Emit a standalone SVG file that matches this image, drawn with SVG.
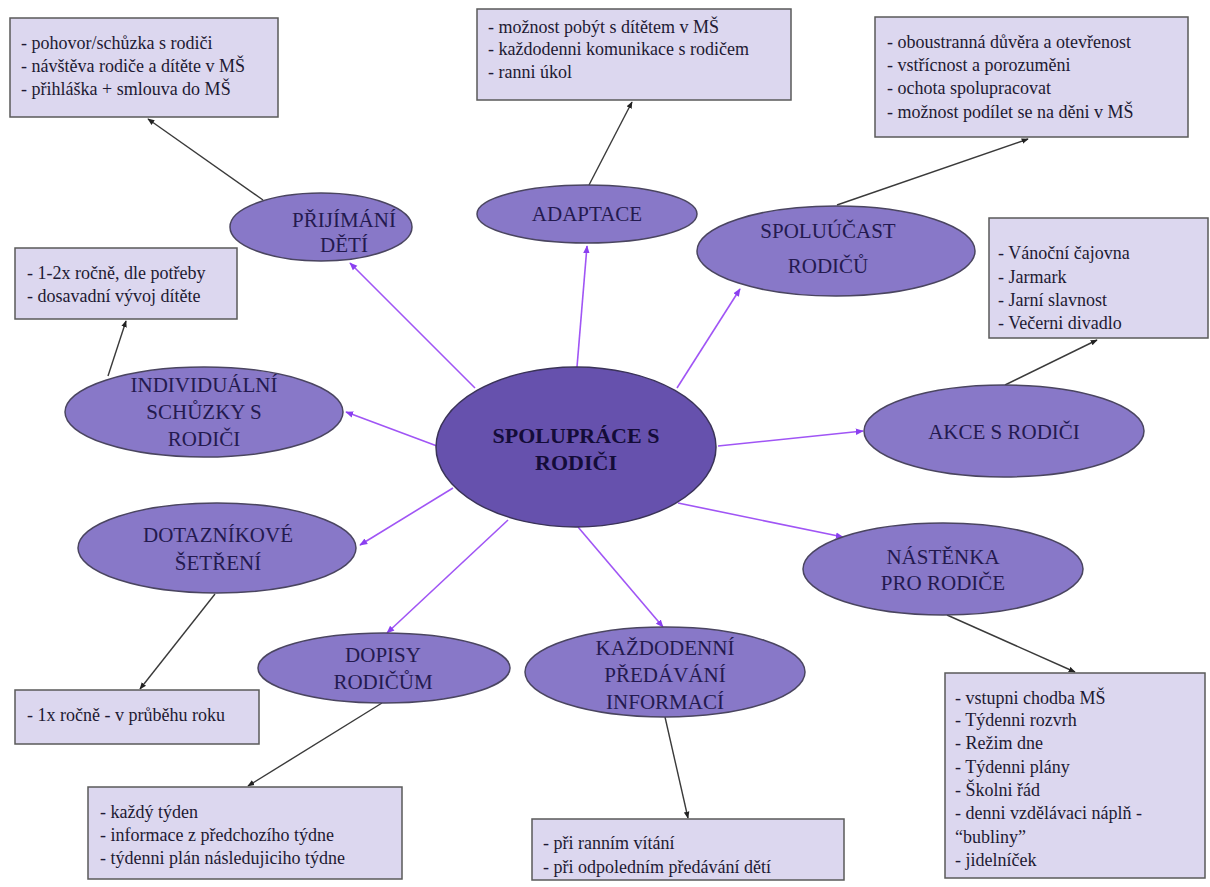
<svg xmlns="http://www.w3.org/2000/svg" width="1210" height="887" viewBox="0 0 1210 887">
<defs>
<style>
.box{fill:#dcd7ef;stroke:#5a5a5a;stroke-width:1.5}
.bt{font-family:"Liberation Serif","DejaVu Serif","Times New Roman",serif;font-size:18px;fill:#1e1a33}
.el{fill:#8878c8;stroke:#4a4560;stroke-width:1.5}
.ctr{fill:#6651ad;stroke:#3a3358;stroke-width:1.5}
.et{font-family:"Liberation Serif","DejaVu Serif","Times New Roman",serif;font-size:21px;fill:#241a4f;text-anchor:middle}
.ct{font-family:"Liberation Serif","DejaVu Serif","Times New Roman",serif;font-size:22px;font-weight:bold;fill:#140c38;text-anchor:middle}
.pl{stroke:#a055f5;stroke-width:1.6;fill:none;marker-end:url(#ap)}
.bl{stroke:#3a3a3a;stroke-width:1.4;fill:none;marker-end:url(#ab)}
</style>
<marker id="ap" viewBox="0 0 10 10" refX="9" refY="5" markerWidth="5" markerHeight="5" orient="auto" markerUnits="strokeWidth">
<path d="M0,1 L10,5 L0,9 z" fill="#8a3ff0"/>
</marker>
<marker id="ab" viewBox="0 0 10 10" refX="9" refY="5" markerWidth="5" markerHeight="5" orient="auto" markerUnits="strokeWidth">
<path d="M0,1 L10,5 L0,9 z" fill="#222"/>
</marker>
</defs>
<rect width="1210" height="887" fill="#ffffff"/>

<g id="connectors">
<line class="pl" x1="475" y1="388" x2="350" y2="263"/>
<line class="pl" x1="577" y1="367" x2="587" y2="246"/>
<line class="pl" x1="677" y1="388" x2="740" y2="289"/>
<line class="pl" x1="437" y1="446" x2="346" y2="412"/>
<line class="pl" x1="453" y1="488" x2="360" y2="545"/>
<line class="pl" x1="508" y1="520" x2="387" y2="633"/>
<line class="pl" x1="578" y1="527" x2="663" y2="627"/>
<line class="pl" x1="718" y1="446" x2="863" y2="431"/>
<line class="pl" x1="678" y1="503" x2="843" y2="537"/>
<line class="bl" x1="263" y1="200" x2="148" y2="119"/>
<line class="bl" x1="589" y1="185" x2="632" y2="102"/>
<line class="bl" x1="837" y1="205" x2="1028" y2="139"/>
<line class="bl" x1="1005" y1="385" x2="1097" y2="340"/>
<line class="bl" x1="947" y1="615" x2="1075" y2="672"/>
<line class="bl" x1="665" y1="717" x2="688" y2="818"/>
<line class="bl" x1="382" y1="703" x2="248" y2="786"/>
<line class="bl" x1="215" y1="594" x2="140" y2="689"/>
<line class="bl" x1="108" y1="376" x2="126" y2="321"/>
</g>

<g id="center">
<ellipse class="ctr" cx="576" cy="447" rx="140" ry="80"/>
<text class="ct" x="576" y="443">SPOLUPRÁCE S</text>
<text class="ct" x="576" y="470">RODIČI</text>
</g>

<g id="prijimani">
<ellipse class="el" cx="321" cy="227" rx="91" ry="34"/>
<text class="et" x="344" y="227">PŘIJÍMÁNÍ</text>
<text class="et" x="344" y="252">DĚTÍ</text>
</g>
<g id="prijimani-box">
<rect class="box" x="10" y="18" width="268" height="99"/>
<text class="bt" x="21" y="49">- pohovor/schůzka s rodiči</text>
<text class="bt" x="21" y="72">- návštěva rodiče a dítěte v MŠ</text>
<text class="bt" x="21" y="95">- přihláška + smlouva do MŠ</text>
</g>

<g id="adaptace">
<ellipse class="el" cx="587" cy="214" rx="110" ry="29"/>
<text class="et" x="587" y="221">ADAPTACE</text>
</g>
<g id="adaptace-box">
<rect class="box" x="477" y="9" width="314" height="91"/>
<text class="bt" x="488" y="33">- možnost pobýt s dítětem v MŠ</text>
<text class="bt" x="488" y="55">- každodenni komunikace s rodičem</text>
<text class="bt" x="488" y="78">- ranni úkol</text>
</g>

<g id="spoluucast">
<ellipse class="el" cx="836" cy="251" rx="139" ry="45"/>
<text class="et" x="828" y="238">SPOLUÚČAST</text>
<text class="et" x="828" y="273">RODIČŮ</text>
</g>
<g id="spoluucast-box">
<rect class="box" x="875" y="17" width="313" height="120"/>
<text class="bt" x="887" y="48">- oboustranná důvěra a otevřenost</text>
<text class="bt" x="887" y="71">- vstřícnost a porozuměni</text>
<text class="bt" x="887" y="94">- ochota spolupracovat</text>
<text class="bt" x="887" y="118">- možnost podílet se na děni v MŠ</text>
</g>

<g id="akce">
<ellipse class="el" cx="1004" cy="431" rx="140" ry="46"/>
<text class="et" x="1004" y="439">AKCE S RODIČI</text>
</g>
<g id="akce-box">
<rect class="box" x="989" y="218" width="219" height="120"/>
<text class="bt" x="998" y="259">- Vánoční čajovna</text>
<text class="bt" x="998" y="283">- Jarmark</text>
<text class="bt" x="998" y="306">- Jarní slavnost</text>
<text class="bt" x="998" y="329">- Večerni divadlo</text>
</g>

<g id="individualni">
<ellipse class="el" cx="204" cy="412" rx="139" ry="45"/>
<text class="et" x="204" y="392">INDIVIDUÁLNÍ</text>
<text class="et" x="204" y="419">SCHŮZKY S</text>
<text class="et" x="204" y="446">RODIČI</text>
</g>
<g id="individualni-box">
<rect class="box" x="15" y="248" width="222" height="71"/>
<text class="bt" x="27" y="279">- 1-2x ročně, dle potřeby</text>
<text class="bt" x="27" y="302">- dosavadní vývoj dítěte</text>
</g>

<g id="dotaznikove">
<ellipse class="el" cx="217" cy="548" rx="139" ry="45"/>
<text class="et" x="218" y="542">DOTAZNÍKOVÉ</text>
<text class="et" x="218" y="570">ŠETŘENÍ</text>
</g>
<g id="dotaznikove-box">
<rect class="box" x="15" y="690" width="244" height="54"/>
<text class="bt" x="27" y="721">- 1x ročně - v průběhu roku</text>
</g>

<g id="dopisy">
<ellipse class="el" cx="384" cy="668" rx="126" ry="35"/>
<text class="et" x="383" y="662">DOPISY</text>
<text class="et" x="383" y="689">RODIČŮM</text>
</g>
<g id="dopisy-box">
<rect class="box" x="88" y="787" width="314" height="92"/>
<text class="bt" x="100" y="818">- každý týden</text>
<text class="bt" x="100" y="841">- informace z předchozího týdne</text>
<text class="bt" x="100" y="864">- týdenni plán následujiciho týdne</text>
</g>

<g id="kazdodenni">
<ellipse class="el" cx="665" cy="672" rx="140" ry="45"/>
<text class="et" x="665" y="655">KAŽDODENNÍ</text>
<text class="et" x="665" y="682">PŘEDÁVÁNÍ</text>
<text class="et" x="665" y="709">INFORMACÍ</text>
</g>
<g id="kazdodenni-box">
<rect class="box" x="532" y="819" width="312" height="61"/>
<text class="bt" x="543" y="849">- při ranním vítání</text>
<text class="bt" x="543" y="873">- při odpoledním předávání dětí</text>
</g>

<g id="nastenka">
<ellipse class="el" cx="943" cy="569" rx="140" ry="46"/>
<text class="et" x="943" y="564">NÁSTĚNKA</text>
<text class="et" x="943" y="590">PRO RODIČE</text>
</g>
<g id="nastenka-box">
<rect class="box" x="945" y="673" width="260" height="205"/>
<text class="bt" x="955" y="704">- vstupni chodba MŠ</text>
<text class="bt" x="955" y="726">- Týdenni rozvrh</text>
<text class="bt" x="955" y="749">- Režim dne</text>
<text class="bt" x="955" y="773">- Týdenni plány</text>
<text class="bt" x="955" y="796">- Školni řád</text>
<text class="bt" x="955" y="819">- denni vzdělávaci náplň -</text>
<text class="bt" x="955" y="843">“bubliny”</text>
<text class="bt" x="955" y="866">- jidelníček</text>
</g>
</svg>
